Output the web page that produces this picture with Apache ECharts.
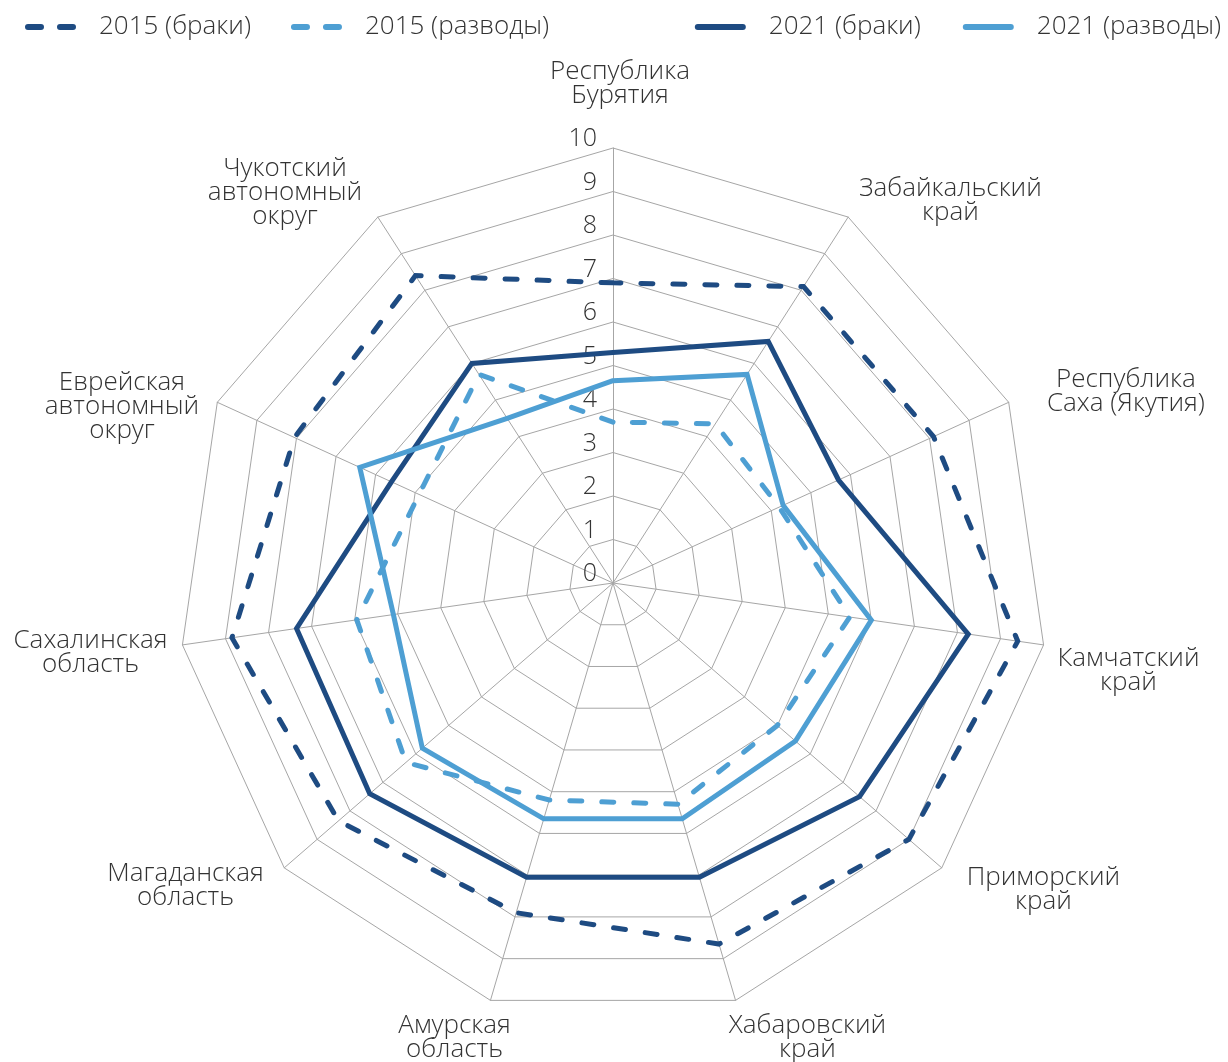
<!DOCTYPE html>
<html>
<head>
<meta charset="utf-8">
<script src="https://cdn.jsdelivr.net/npm/echarts@6/dist/echarts.min.js"></script>
<style>
  html, body { margin: 0; padding: 0; background: #fff; }
  #chart { width: 1228px; height: 1062px; }
</style>
</head>
<body>
<div id="chart"></div>
<script>
// regions, listed clockwise from the top like in the original chart
const regions = [
  'Республика\nБурятия',
  'Забайкальский\nкрай',
  'Республика\nСаха (Якутия)',
  'Камчатский\nкрай',
  'Приморский\nкрай',
  'Хабаровский\nкрай',
  'Амурская\nобласть',
  'Магаданская\nобласть',
  'Сахалинская\nобласть',
  'Еврейская\nавтономный\nокруг',
  'Чукотский\nавтономный\nокруг'
];
const marriages2015 = [6.9, 8.1, 8.1, 9.4, 9.0, 8.65, 7.9, 8.35, 8.85, 8.05, 8.4];
const divorces2015 = [3.7, 4.35, 4.2, 5.5, 5.0, 5.3, 5.2, 6.3, 5.95, 4.9, 5.7];
const marriages2021 = [5.3, 6.6, 5.7, 8.25, 7.5, 7.05, 7.05, 7.4, 7.35, 5.6, 6.0];
const divorces2021 = [4.65, 5.7, 4.3, 6.0, 5.55, 5.65, 5.65, 5.8, 5.1, 6.4, 4.5];
const seriesNames = ['2015 (браки)', '2015 (разводы)', '2021 (браки)', '2021 (разводы)'];
const axisMax = 10;

const DARK = '#1e4b82';
const LIGHT = '#4e9fd3';
const GRID = '#a6a6a6';
const TEXT = '#333333';
const FONT = '"Open Sans", "DejaVu Sans", sans-serif';

// name placement for each region (same clockwise order)
const nameLayout = [
  { gap: 40, align: 'center', va: 'bottom', pad: [0, 0, 0, 14] },
  { gap: 20, align: 'left', va: 'middle' },
  { gap: 42, align: 'left', va: 'middle', pad: [14, 0, 0, 0] },
  { gap: 14, align: 'left', va: 'top' },
  { gap: 33, align: 'left', va: 'middle' },
  { gap: 14, align: 'center', va: 'top', pad: [0, 0, 0, 136] },
  { gap: 14, align: 'center', va: 'top', pad: [0, 64, 0, 0] },
  { gap: 27, align: 'right', va: 'middle' },
  { gap: 15, align: 'right', va: 'middle', pad: [12, 0, 0, 0] },
  { gap: 20, align: 'right', va: 'middle', pad: [26, 0, 0, 0] },
  { gap: 29, align: 'right', va: 'middle' }
];

// echarts lays radar axes out counter-clockwise, so flip the order after the first
const ccw = (arr) => [arr[0]].concat(arr.slice(1).reverse());

const indicators = ccw(regions.map((name, i) => ({
  name: name,
  max: axisMax,
  min: 0,
  nameGap: nameLayout[i].gap,
  nameTextStyle: {
    align: nameLayout[i].align,
    verticalAlign: nameLayout[i].va,
    padding: nameLayout[i].pad || 0
  },
  axisLabel: { show: i === 0 }
})));

const dashIcon = 'path://M3,0H16A3,3,0,0,1,16,6H3A3,3,0,0,1,3,0ZM35,0H48A3,3,0,0,1,48,6H35A3,3,0,0,1,35,0Z';
const solidIcon = 'path://M3,0H48A3,3,0,0,1,48,6H3A3,3,0,0,1,3,0Z';

const lines = [
  { values: marriages2015, color: DARK, dashed: true },
  { values: divorces2015, color: LIGHT, dashed: true },
  { values: marriages2021, color: DARK, dashed: false },
  { values: divorces2021, color: LIGHT, dashed: false }
];

const legendText = { fontFamily: FONT, fontWeight: 300, fontSize: 26, color: TEXT, padding: [0, 0, 0, 18] };
const legendItem = (i) => ({
  name: seriesNames[i],
  icon: lines[i].dashed ? dashIcon : solidIcon,
  itemStyle: { color: lines[i].color, borderWidth: 0 }
});

const chart = echarts.init(document.getElementById('chart'));
chart.setOption({
  backgroundColor: '#fff',
  animation: false,
  legend: [
    {
      left: 20, top: 9, itemWidth: 51, itemHeight: 6, itemGap: 40,
      textStyle: legendText, data: [legendItem(0), legendItem(1)]
    },
    {
      right: 2, top: 9, itemWidth: 51, itemHeight: 6, itemGap: 42,
      textStyle: legendText, data: [legendItem(2), legendItem(3)]
    }
  ],
  radar: {
    center: [613, 583],
    radius: 435,
    startAngle: 90,
    shape: 'polygon',
    splitNumber: 10,
    indicator: indicators,
    axisName: {
      color: TEXT,
      fontFamily: FONT,
      fontWeight: 300,
      fontSize: 26,
      lineHeight: 24,
      formatter: (name) => name.split('\n').map((s) => '{c|' + s + '}').join('\n'),
      rich: { c: { align: 'center', fontFamily: FONT, fontWeight: 300, fontSize: 26, lineHeight: 24, color: TEXT } }
    },
    axisLine: { lineStyle: { color: GRID, width: 1 } },
    splitLine: { lineStyle: { color: GRID, width: 1 } },
    splitArea: { show: false },
    axisTick: { show: false },
    axisLabel: {
      show: false,
      color: TEXT,
      fontFamily: FONT,
      fontWeight: 300,
      fontSize: 25,
      lineHeight: 18,
      margin: 16,
      align: 'right',
      verticalAlign: 'bottom'
    }
  },
  series: [{
    type: 'radar',
    symbol: 'none',
    data: lines.map((l, i) => ({
      name: seriesNames[i],
      value: ccw(l.values),
      itemStyle: { color: l.color },
      lineStyle: {
        color: l.color,
        width: 5,
        type: l.dashed ? [12, 20] : 'solid',
        cap: 'round',
        join: 'miter'
      }
    }))
  }]
});
</script>
</body>
</html>
